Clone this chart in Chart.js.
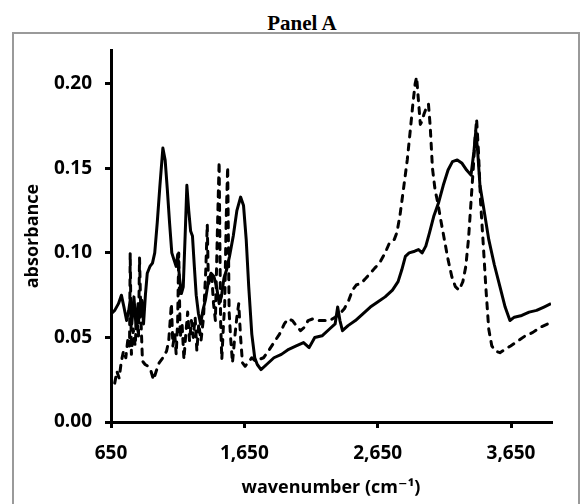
<!DOCTYPE html>
<html>
<head>
<meta charset="utf-8">
<script src="https://cdn.jsdelivr.net/npm/chart.js@4.4.1/dist/chart.umd.min.js"></script>
<style>
  html, body { margin: 0; padding: 0; background: #fff; }
  .wrap { position: relative; width: 580px; height: 504px; overflow: hidden; }
  .panel-title {
    position: absolute; left: 202px; width: 200px; top: 13px;
    text-align: center; font: bold 21px/21px "Liberation Serif", "Times New Roman", serif; color: #000;
  }
  .frame {
    position: absolute; left: 12px; top: 32px; width: 564px; height: 480px;
    border: 2px solid #9a9a9a;
  }
  canvas { position: absolute; left: 0; top: 0; }
</style>
</head>
<body>
<div class="wrap">
  <div class="panel-title">Panel A</div>
  <div class="frame"></div>
  <canvas id="chart" width="580" height="504"></canvas>
</div>
<script>
// Spectrum values (wavenumber in cm-1, absorbance)
const solidWn = [650, 678, 706, 728, 747, 767, 783, 794, 806, 822, 839, 853, 867, 881, 894, 908, 922, 942, 961, 978,
  997, 1017, 1039, 1056, 1072, 1089, 1106, 1122, 1139, 1150, 1164, 1178, 1192, 1206, 1219, 1233, 1247, 1261, 1275, 1289,
  1306, 1322, 1339, 1358, 1378, 1400, 1422, 1442, 1461, 1478, 1497, 1517, 1539, 1567, 1594, 1622, 1644, 1664, 1683, 1706,
  1728, 1747, 1775, 1817, 1872, 1928, 1983, 2039, 2094, 2136, 2178, 2233, 2289, 2331, 2350, 2367, 2386, 2428, 2483, 2539,
  2595, 2650, 2706, 2761, 2803, 2831, 2858, 2886, 2928, 2956, 2983, 3011, 3039, 3072, 3108, 3142, 3178, 3211, 3247, 3283,
  3317, 3350, 3372, 3386, 3400, 3417, 3442, 3483, 3525, 3567, 3606, 3642, 3675, 3731, 3786, 3842, 3897, 3950];
const solidAbs = [0.064, 0.066, 0.070, 0.075, 0.068, 0.060, 0.066, 0.072, 0.058, 0.074, 0.055, 0.070, 0.062, 0.072, 0.058, 0.075, 0.088, 0.092, 0.094, 0.100,
  0.118, 0.140, 0.162, 0.155, 0.138, 0.118, 0.100, 0.096, 0.092, 0.099, 0.085, 0.076, 0.080, 0.110, 0.140, 0.125, 0.113, 0.110, 0.092, 0.075,
  0.064, 0.058, 0.066, 0.072, 0.082, 0.088, 0.086, 0.080, 0.070, 0.074, 0.085, 0.090, 0.098, 0.110, 0.125, 0.133, 0.128, 0.108, 0.080, 0.052,
  0.038, 0.034, 0.031, 0.034, 0.038, 0.040, 0.043, 0.045, 0.047, 0.044, 0.050, 0.051, 0.055, 0.058, 0.068, 0.060, 0.054, 0.057, 0.060, 0.064,
  0.068, 0.071, 0.074, 0.078, 0.083, 0.090, 0.098, 0.100, 0.101, 0.102, 0.100, 0.104, 0.112, 0.122, 0.130, 0.140, 0.149, 0.154, 0.155, 0.153,
  0.149, 0.146, 0.160, 0.172, 0.160, 0.140, 0.128, 0.108, 0.093, 0.080, 0.068, 0.060, 0.062, 0.063, 0.065, 0.066, 0.068, 0.070];

const dashedWn = [678, 694, 711, 728, 744, 761, 778, 789, 794, 803, 817, 831, 844, 856, 864, 875, 886, 906, 928, 950,
  969, 989, 1011, 1039, 1067, 1083, 1103, 1114, 1128, 1139, 1150, 1158, 1169, 1183, 1197, 1211, 1225, 1239, 1253, 1267,
  1281, 1294, 1308, 1325, 1344, 1361, 1372, 1381, 1392, 1406, 1419, 1433, 1447, 1461, 1472, 1481, 1492, 1503, 1514, 1525,
  1536, 1547, 1561, 1578, 1594, 1608, 1622, 1636, 1656, 1678, 1706, 1733, 1761, 1794, 1831, 1872, 1914, 1950, 1978, 2011,
  2039, 2072, 2100, 2128, 2164, 2206, 2247, 2289, 2331, 2367, 2400, 2433, 2461, 2489, 2525, 2561, 2595, 2628, 2664, 2706,
  2739, 2775, 2794, 2817, 2844, 2872, 2894, 2914, 2931, 2942, 2956, 2970, 2983, 2997, 3011, 3031, 3044, 3061, 3081, 3100,
  3122, 3150, 3178, 3206, 3233, 3261, 3289, 3311, 3331, 3350, 3367, 3381, 3392, 3406, 3422, 3442, 3461, 3483, 3506, 3533,
  3567, 3606, 3647, 3703, 3758, 3814, 3869, 3925, 3950];
const dashedAbs = [0.023, 0.030, 0.026, 0.036, 0.042, 0.038, 0.050, 0.045, 0.100, 0.040, 0.055, 0.045, 0.064, 0.050, 0.097, 0.060, 0.036, 0.034, 0.033, 0.030,
  0.025, 0.030, 0.035, 0.038, 0.042, 0.048, 0.070, 0.045, 0.052, 0.040, 0.060, 0.100, 0.050, 0.058, 0.037, 0.052, 0.065, 0.048, 0.060, 0.050,
  0.062, 0.042, 0.058, 0.048, 0.062, 0.090, 0.117, 0.080, 0.088, 0.086, 0.070, 0.060, 0.110, 0.154, 0.060, 0.037, 0.055, 0.070, 0.120, 0.151,
  0.065, 0.050, 0.035, 0.050, 0.062, 0.070, 0.050, 0.035, 0.033, 0.035, 0.038, 0.036, 0.037, 0.038, 0.042, 0.047, 0.052, 0.058, 0.061, 0.060,
  0.057, 0.054, 0.056, 0.060, 0.061, 0.060, 0.060, 0.060, 0.062, 0.064, 0.067, 0.072, 0.078, 0.081, 0.082, 0.085, 0.088, 0.091, 0.094, 0.100,
  0.106, 0.108, 0.112, 0.122, 0.138, 0.155, 0.172, 0.188, 0.200, 0.204, 0.190, 0.176, 0.178, 0.182, 0.185, 0.188, 0.175, 0.150, 0.137, 0.130,
  0.120, 0.108, 0.096, 0.086, 0.080, 0.078, 0.083, 0.092, 0.108, 0.130, 0.150, 0.168, 0.179, 0.160, 0.130, 0.105, 0.080, 0.055, 0.045, 0.042,
  0.041, 0.043, 0.045, 0.048, 0.051, 0.053, 0.056, 0.058, 0.060];

const xTicks = [650, 1650, 2650, 3650];
const yTicks = [0, 0.05, 0.10, 0.15, 0.20];

function toPoints(xs, ys) {
  return xs.map((x, i) => ({ x: x, y: ys[i] }));
}

const tickFont = { family: '"Open Sans", "DejaVu Sans", sans-serif', size: 19, weight: 'bold' };
const titleFont = { family: '"Open Sans", "DejaVu Sans", sans-serif', size: 18, weight: 'bold' };

new Chart(document.getElementById('chart').getContext('2d'), {
  type: 'line',
  data: {
    datasets: [
      {
        label: 'solid',
        data: toPoints(solidWn, solidAbs),
        borderColor: '#000',
        borderWidth: 3,
        borderJoinStyle: 'round',
        pointRadius: 0,
        tension: 0,
        fill: false
      },
      {
        label: 'dashed',
        data: toPoints(dashedWn, dashedAbs),
        borderColor: '#000',
        borderWidth: 3,
        borderDash: [6, 7],
        borderCapStyle: 'round',
        borderJoinStyle: 'round',
        pointRadius: 0,
        tension: 0,
        fill: false
      }
    ]
  },
  options: {
    responsive: false,
    animation: false,
    layout: { padding: { left: 13, right: 29, top: 50, bottom: 0 } },
    plugins: {
      legend: { display: false },
      tooltip: { enabled: false }
    },
    scales: {
      x: {
        type: 'linear',
        min: 650,
        max: 3950,
        afterBuildTicks: function(scale) {
          scale.ticks = xTicks.map(v => ({ value: v }));
        },
        afterFit: function(scale) { scale.height = 82; },
        grid: { display: true, drawOnChartArea: false, drawTicks: true, tickLength: 6, color: '#000', lineWidth: 3 },
        border: { display: true, color: '#000', width: 3 },
        ticks: {
          color: '#000',
          font: tickFont,
          padding: 14,
          maxRotation: 0,
          callback: function(value) { return value.toLocaleString('en-US'); }
        },
        title: {
          display: true,
          text: 'wavenumber (cm⁻¹)',
          color: '#000',
          font: titleFont,
          padding: { top: 0, bottom: 5 }
        }
      },
      y: {
        min: 0,
        max: 0.22,
        afterBuildTicks: function(scale) {
          scale.ticks = yTicks.map(v => ({ value: v }));
        },
        afterFit: function(scale) { scale.width = 98; },
        grid: { display: true, drawOnChartArea: false, drawTicks: true, tickLength: 6, color: '#000', lineWidth: 3 },
        border: { display: true, color: '#000', width: 3 },
        ticks: {
          color: '#000',
          font: tickFont,
          padding: 13,
          callback: function(value) { return value.toFixed(2); }
        },
        title: {
          display: true,
          text: 'absorbance',
          color: '#000',
          font: titleFont,
          padding: { top: 9, bottom: 0 }
        }
      }
    }
  }
});
</script>
</body>
</html>
